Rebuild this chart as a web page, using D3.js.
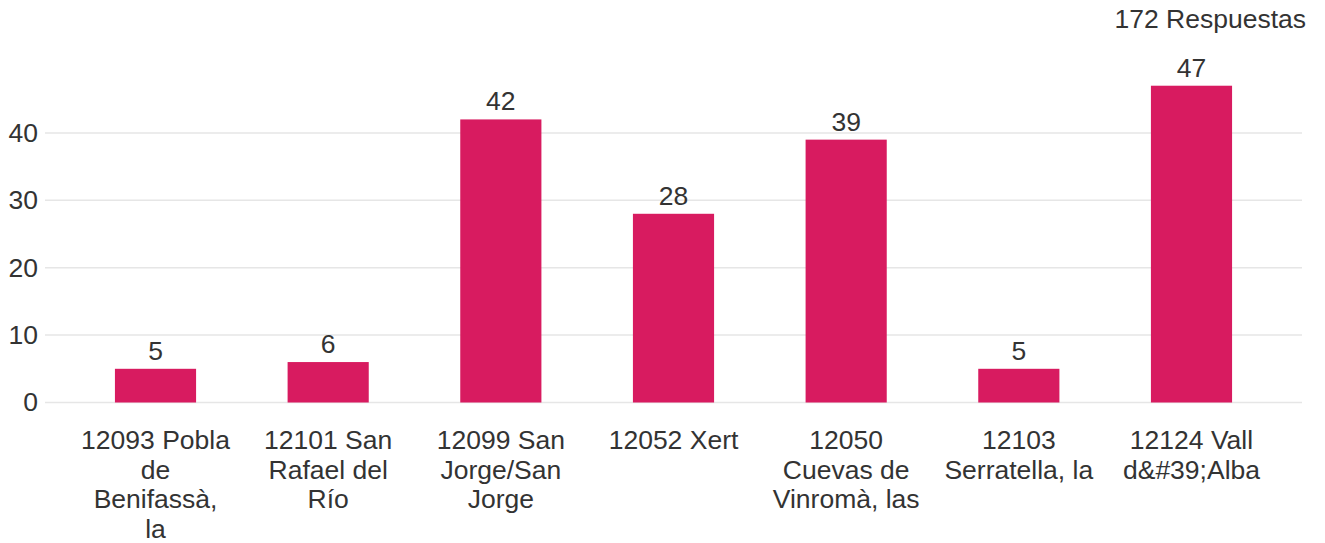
<!DOCTYPE html>
<html>
<head>
<meta charset="utf-8">
<script src="https://cdn.jsdelivr.net/npm/d3@7"></script>
<style>
  body { margin: 0; background: #fff; }
  text { font-family: "Liberation Sans", Arial, sans-serif; fill: #333; }
</style>
</head>
<body>
<script>
var categories = [
  "12093 Pobla de Benifassà, la",
  "12101 San Rafael del Río",
  "12099 San Jorge/San Jorge",
  "12052 Xert",
  "12050 Cuevas de Vinromà, las",
  "12103 Serratella, la",
  "12124 Vall d&#39;Alba"
]
var values = [5, 6, 42, 28, 39, 5, 47]
var yTicks = [0, 10, 20, 30, 40]
var totalLabel = "172 Respuestas"

var W = 1325, H = 543
var fontSize = 26.5

var svg = d3.select("body").append("svg")
    .attr("width", W)
    .attr("height", H)

var x = d3.scaleBand()
    .domain(categories)
    .range([45, 1302])
    .paddingInner(0.53)
    .paddingOuter(0.405)

var y = d3.scaleLinear()
    .domain([0, 50])
    .range([402.5, 65.5])

// grid
svg.append("g").selectAll("line")
    .data(yTicks).enter()
  .append("line")
    .attr("x1", 45).attr("x2", 1302)
    .attr("y1", function(d){ return y(d) })
    .attr("y2", function(d){ return y(d) })
    .attr("stroke", "#e6e6e6")
    .attr("stroke-width", 1.5)

// y tick labels
var yAxis = d3.axisLeft(y).tickValues(yTicks).tickSize(0).tickPadding(0)
svg.append("g")
    .attr("transform", "translate(38,0)")
    .call(yAxis)
    .call(function(g){ g.select(".domain").remove() })
    .selectAll("text")
    .attr("font-size", fontSize)
    .style("font-family", "'Liberation Sans', Arial, sans-serif")
    .attr("fill", "#333")

// bars
svg.append("g").selectAll("rect")
    .data(values).enter()
  .append("rect")
    .attr("x", function(d, i){ return x(categories[i]) })
    .attr("width", x.bandwidth())
    .attr("y", function(d){ return y(d) })
    .attr("height", function(d){ return y(0) - y(d) })
    .attr("fill", "#d81b60")

// value labels
svg.append("g").selectAll("text")
    .data(values).enter()
  .append("text")
    .attr("x", function(d, i){ return x(categories[i]) + x.bandwidth() / 2 })
    .attr("y", function(d){ return y(d) - 9 })
    .attr("text-anchor", "middle")
    .attr("font-size", fontSize)
    .text(function(d){ return d })

// category labels, wrapped
var maxW = 149
svg.append("g").selectAll("text")
    .data(categories).enter()
  .append("text")
    .attr("text-anchor", "middle")
    .attr("font-size", fontSize)
    .attr("y", 449)
    .each(function(d){
      var t = d3.select(this)
      var cx = x(d) + x.bandwidth() / 2
      var words = d.split(" "), line = []
      var tspan = t.append("tspan").attr("x", cx).attr("dy", 0)
      words.forEach(function(w){
        line.push(w)
        tspan.text(line.join(" "))
        if (tspan.node().getComputedTextLength() > maxW && line.length > 1) {
          line.pop()
          tspan.text(line.join(" "))
          line = [w]
          tspan = t.append("tspan").attr("x", cx).attr("dy", 29.5).text(w)
        }
      })
    })

// total
svg.append("text")
    .attr("x", 1306)
    .attr("y", 28)
    .attr("text-anchor", "end")
    .attr("font-size", fontSize)
    .text(totalLabel)
</script>
</body>
</html>
